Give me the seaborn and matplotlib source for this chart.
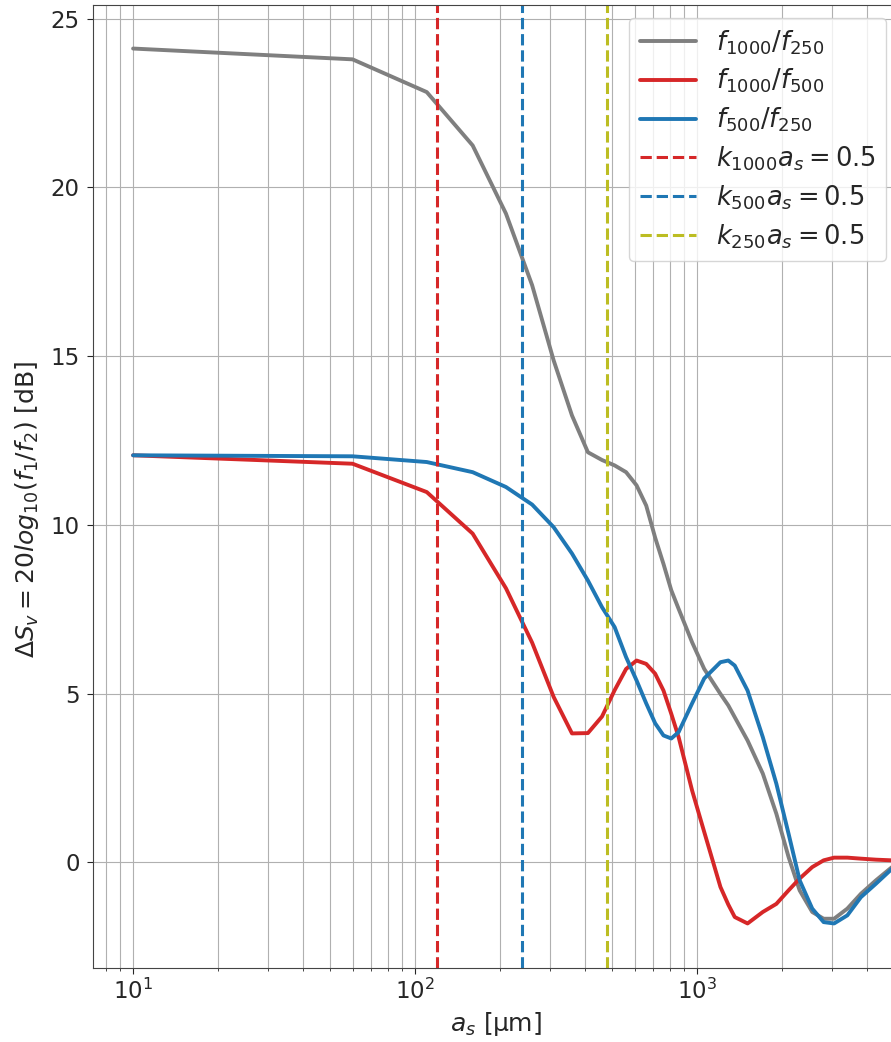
import numpy as np
import pandas as pd
import matplotlib
matplotlib.use('Agg')
import matplotlib.pyplot as plt
import seaborn as sns

# sample radii [um]
a_s = [10, 60, 110, 160, 210, 260, 310, 360, 410, 460, 510, 560, 610, 660, 710,
       760, 810, 860, 960, 1060, 1210, 1290, 1360, 1510, 1710, 1910, 2110, 2310, 2560,
       2810, 3060, 3410, 3810, 4310, 4910]

# level differences [dB]
f1000_f250 = [24.11, 23.79, 22.82, 21.24, 19.22, 17.10, 14.87, 13.24, 12.15, 11.92,
              11.76, 11.56, 11.17, 10.57, 9.62, 8.84, 8.06, 7.51, 6.52, 5.73, 4.99,
              4.65, 4.30, 3.61, 2.63, 1.44, 0.16, -0.83, -1.47, -1.67, -1.67, -1.37,
              -0.93, -0.53, -0.14]
f1000_f500 = [12.06, 11.81, 10.97, 9.74, 8.12, 6.51, 4.90, 3.82, 3.83, 4.32,
              5.10, 5.73, 5.98, 5.88, 5.59, 5.09, 4.40, 3.71, 2.13, 0.90, -0.73,
              -1.25, -1.62, -1.81, -1.47, -1.23, -0.83, -0.48, -0.14, 0.06, 0.14, 0.14,
              0.11, 0.08, 0.06]
f500_f250 = [12.06, 12.03, 11.86, 11.56, 11.12, 10.60, 9.93, 9.15, 8.35, 7.56,
             6.97, 6.08, 5.39, 4.71, 4.12, 3.76, 3.67, 3.86, 4.71, 5.45, 5.93,
             5.98, 5.83, 5.09, 3.71, 2.33, 0.85, -0.53, -1.37, -1.77, -1.81, -1.57,
             -1.03, -0.63, -0.19]

# k*a_s = 0.5 radii [um] for 1000, 500, 250 kHz
ka_radius = [119.4, 238.7, 477.5]
ka_colors = ['tab:red', 'tab:blue', 'tab:olive']
ka_labels = [r'$k_{1000}a_s = 0.5$', r'$k_{500}a_s = 0.5$', r'$k_{250}a_s = 0.5$']

df = pd.DataFrame({'a_s': a_s, 'g': f1000_f250, 'r': f1000_f500, 'b': f500_f250})

sns.set_style('white')
plt.rcParams['font.family'] = ['DejaVu Sans']

fig = plt.figure(figsize=(8.91, 10.42), dpi=100)
ax = fig.add_axes([0.1044, 0.071, 0.9046, 0.9242])

sns.lineplot(data=df, x='a_s', y='g', color='tab:gray', lw=2.8, label=r'$f_{1000}/f_{250}$', ax=ax)
sns.lineplot(data=df, x='a_s', y='r', color='tab:red', lw=2.8, label=r'$f_{1000}/f_{500}$', ax=ax)
sns.lineplot(data=df, x='a_s', y='b', color='tab:blue', lw=2.8, label=r'$f_{500}/f_{250}$', ax=ax)

for r, c, lab in zip(ka_radius, ka_colors, ka_labels):
    ax.axvline(r, color=c, ls='--', lw=2.2, label=lab)

ax.set_xscale('log')
ax.set_xlim(7.21, 5200)
ax.set_ylim(-3.13, 25.4)
ax.grid(True, which='both', axis='x', color='#b0b0b0', lw=0.8)
ax.grid(True, which='major', axis='y', color='#b0b0b0', lw=0.8)
for s in ax.spines.values():
    s.set_color('#444444')

ax.tick_params(axis='both', which='major', labelsize=16.5, length=4.5, left=True, bottom=True)
ax.tick_params(axis='y', which='major', pad=5)
ax.tick_params(axis='x', which='minor', length=2, bottom=True)
ax.set_xlabel(r'$a_s$ [µm]', fontsize=18)
ax.set_ylabel(r'$\Delta S_v = 20 log_{10}(f_1/f_2)$ [dB]', fontsize=18)
ax.yaxis.set_label_coords(-0.064, 0.476)

ax.legend(loc='upper right', fontsize=18.5, handlelength=2.18, labelspacing=0.4)

fig.savefig('out.png', dpi=100)
